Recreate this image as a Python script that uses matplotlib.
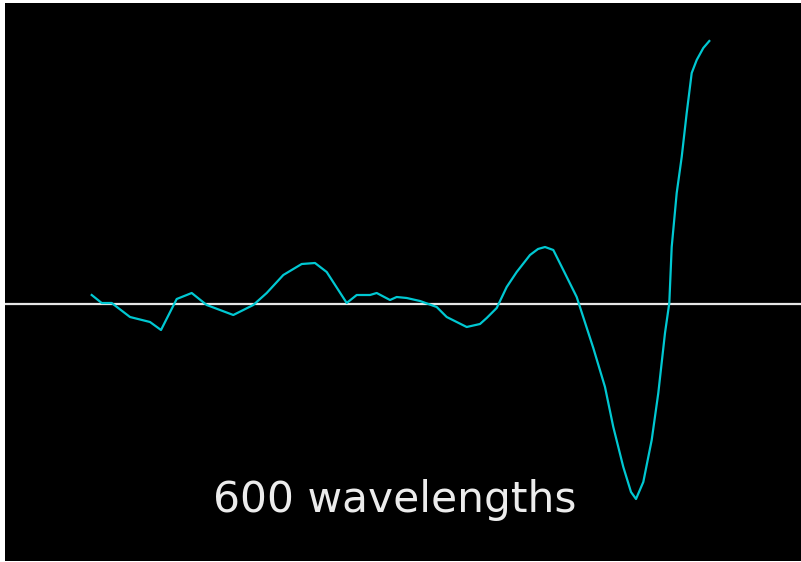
import matplotlib.pyplot as plt

# wave trace (x: position, y: amplitude, 0 = baseline)
x = [8.67, 9.67, 10.67, 12.5, 14.5, 15.6, 17.17, 18.67, 20.17, 22.83,
     24.83, 26.17, 27.83, 29.67, 31.0, 32.17, 34.17, 35.17, 36.5, 37.17,
     38.5, 39.17, 40.17, 41.5, 43.17, 44.17, 46.17, 47.5, 48.17, 49.17,
     50.17, 51.17, 52.5, 53.3, 54.0, 54.83, 55.83, 57.17, 58.83, 60.0,
     60.83, 61.83, 62.6, 63.1, 63.83, 64.67, 65.33, 66.0, 66.43, 66.67,
     67.17, 67.67, 68.17, 68.67, 69.17, 69.83, 70.43]
y = [0.09, 0.01, 0.01, -0.13, -0.18, -0.26, 0.05, 0.11, -0.01, -0.11,
     -0.01, 0.11, 0.29, 0.40, 0.41, 0.32, 0.01, 0.09, 0.09, 0.11,
     0.04, 0.07, 0.06, 0.03, -0.03, -0.13, -0.23, -0.20, -0.14, -0.04,
     0.17, 0.32, 0.49, 0.55, 0.57, 0.54, 0.34, 0.07, -0.44, -0.83,
     -1.23, -1.63, -1.88, -1.95, -1.78, -1.36, -0.89, -0.29, 0.01, 0.57,
     1.11, 1.47, 1.91, 2.31, 2.44, 2.56, 2.63]

label = "600 wavelengths"

fig = plt.figure(figsize=(8.01, 5.62), dpi=100)
fig.patch.set_facecolor("white")
ax = fig.add_axes([5 / 801, 1 / 562, 796 / 801, 558 / 562])
ax.set_facecolor("black")

ax.axhline(0, color="#e6e6e6", lw=1.6)
ax.plot(x, y, color="#00c8d2", lw=1.6)

ax.text(39.0, -2.08, label, color="#ececec", fontsize=30.5,
        family="DejaVu Sans", ha="center", va="baseline")

ax.set_xlim(0, 79.6)
ax.set_ylim(-2.57, 3.01)
ax.set_xticks([])
ax.set_yticks([])
for s in ax.spines.values():
    s.set_visible(False)

fig.savefig("out.png", dpi=100, facecolor=fig.get_facecolor())
